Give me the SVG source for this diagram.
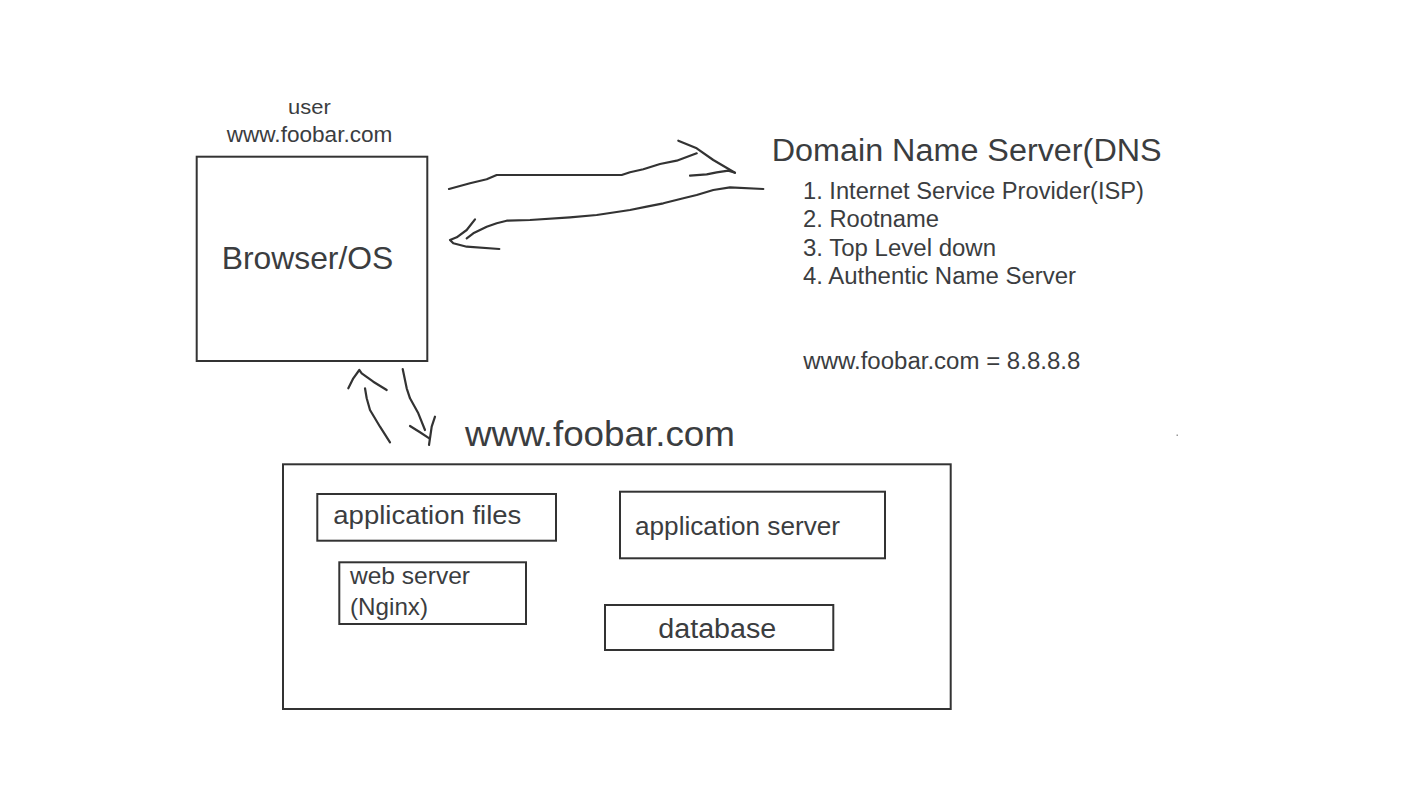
<svg xmlns="http://www.w3.org/2000/svg" width="1422" height="800" viewBox="0 0 1422 800">
<style>
.box{fill:none;stroke:#333;stroke-width:2}
.t{font-family:"Liberation Sans",Arial,Helvetica,sans-serif;fill:#3b3d3f}
.ink{fill:none;stroke:#333;stroke-width:2.2;stroke-linecap:round;stroke-linejoin:round}
</style>
<rect width="1422" height="800" fill="#fff"/>
<g id="user-label">
<text class="t" x="288" y="114" font-size="21" textLength="42.7" lengthAdjust="spacingAndGlyphs">user</text>
<text class="t" x="226.7" y="141.7" font-size="21.5" textLength="165.7" lengthAdjust="spacingAndGlyphs">www.foobar.com</text>
</g>
<g id="browser">
<rect class="box" x="196.7" y="156.7" width="230.6" height="204.3"/>
<text class="t" x="221.7" y="268.5" font-size="30.5" textLength="171.6" lengthAdjust="spacingAndGlyphs">Browser/OS</text>
</g>
<g id="dns">
<text class="t" x="771.7" y="161" font-size="31" textLength="390" lengthAdjust="spacingAndGlyphs">Domain Name Server(DNS</text>
<text class="t" x="803" y="199" font-size="23.5" textLength="341" lengthAdjust="spacingAndGlyphs">1. Internet Service Provider(ISP)</text>
<text class="t" x="803" y="227.3" font-size="23.5" textLength="136" lengthAdjust="spacingAndGlyphs">2. Rootname</text>
<text class="t" x="803" y="255.6" font-size="23.5" textLength="193" lengthAdjust="spacingAndGlyphs">3. Top Level down</text>
<text class="t" x="803" y="284" font-size="23.5" textLength="273" lengthAdjust="spacingAndGlyphs">4. Authentic Name Server</text>
<text class="t" x="803.3" y="369" font-size="23.5" textLength="277" lengthAdjust="spacingAndGlyphs">www.foobar.com = 8.8.8.8</text>
</g>
<g id="site">
<text class="t" x="465" y="445.7" font-size="35" textLength="270" lengthAdjust="spacingAndGlyphs">www.foobar.com</text>
<rect class="box" x="283" y="464.3" width="667.7" height="244.7"/>
</g>
<g id="app-files">
<rect class="box" x="317.3" y="494" width="238.7" height="46.7"/>
<text class="t" x="333.3" y="524" font-size="26" textLength="188" lengthAdjust="spacingAndGlyphs">application files</text>
</g>
<g id="web-server">
<rect class="box" x="339.3" y="562.3" width="186.7" height="61.7"/>
<text class="t" x="350" y="584" font-size="24" textLength="120" lengthAdjust="spacingAndGlyphs">web server</text>
<text class="t" x="350" y="615" font-size="24" textLength="78" lengthAdjust="spacingAndGlyphs">(Nginx)</text>
</g>
<g id="app-server">
<rect class="box" x="620" y="491.7" width="265" height="66.6"/>
<text class="t" x="635" y="535" font-size="26" textLength="205" lengthAdjust="spacingAndGlyphs">application server</text>
</g>
<g id="database">
<rect class="box" x="605" y="605" width="228.3" height="45"/>
<text class="t" x="658.3" y="637.5" font-size="27" textLength="118" lengthAdjust="spacingAndGlyphs">database</text>
</g>
<g id="connectors">
<polyline class="ink" points="449,189 470,183.3 486.7,179.3 496.7,175 621.7,175 630,172.3 643.3,169.3 660,164 676.7,160.7 696.7,153.3"/>
<polyline class="ink" points="678.3,140.7 696.7,148.3 713.3,160 735,172.7"/>
<polyline class="ink" points="690,175.7 706.7,174.3 716.7,172.3 728.3,170.7 735,172.7"/>
<polyline class="ink" points="763.3,189 730,187.3 713.3,190 696.7,195 683.3,198.3 663.3,203.3 646.7,206.7 630,210 596.7,215 570,217.3 530,220 506.7,220.7 496.7,223.3 486.7,226.7 473.3,233.3 466.7,238.3"/>
<polyline class="ink" points="475,219.3 466.7,230 456.7,237.3 450,240 453.3,243.3 466.7,246.7 499.3,249"/>
<polyline class="ink" points="390,442.3 380,426.7 370,410 366.7,398.3 365,388.3"/>
<polyline class="ink" points="348.3,388.3 353.3,378.3 359.3,370 361.7,373.3 373.3,381.7 386.7,390"/>
<polyline class="ink" points="402.7,369 406.7,388.3 410,398.3 418.3,413.3 425,430"/>
<polyline class="ink" points="410,426 420,432.3 429.3,438.3"/>
<polyline class="ink" points="435,416.7 431.7,426.7 429,445"/>
</g>
<rect x="1176.5" y="434.5" width="1.5" height="1.5" fill="#999"/>
</svg>
